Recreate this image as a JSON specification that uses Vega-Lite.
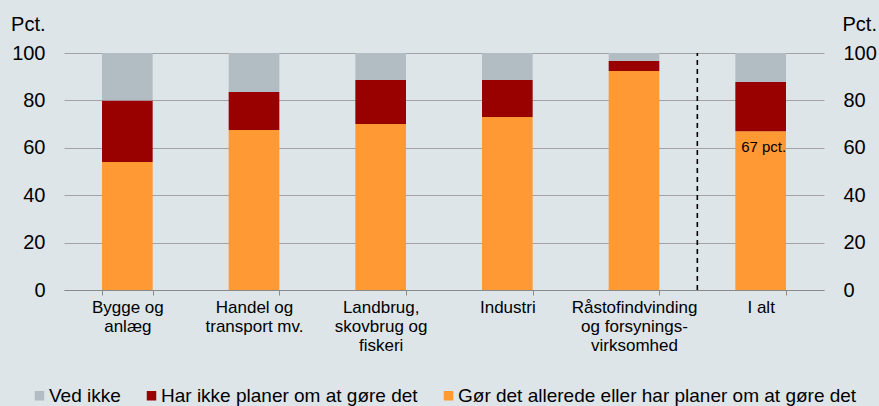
{
  "$schema": "https://vega.github.io/schema/vega-lite/v6.json",
  "autosize": {"type": "none"},
  "width": 760,
  "height": 237,
  "padding": {"left": 64, "top": 53, "right": 55, "bottom": 116},
  "background": "#dee5e9",
  "config": {
    "font": "Liberation Sans",
    "view": {"stroke": null},
    "axis": {"labelColor": "#000000", "titleColor": "#000000", "labelFont": "Liberation Sans", "titleFont": "Liberation Sans"},
    "legend": {"labelColor": "#000000", "labelFont": "Liberation Sans"}
  },
  "datasets": {
    "bars": [
      {"sektor": "Bygge og anlæg", "svar": "Gør det allerede eller har planer om at gøre det", "ord": 1, "value": 54},
      {"sektor": "Bygge og anlæg", "svar": "Har ikke planer om at gøre det", "ord": 2, "value": 26},
      {"sektor": "Bygge og anlæg", "svar": "Ved ikke", "ord": 3, "value": 20},
      {"sektor": "Handel og transport mv.", "svar": "Gør det allerede eller har planer om at gøre det", "ord": 1, "value": 67.5},
      {"sektor": "Handel og transport mv.", "svar": "Har ikke planer om at gøre det", "ord": 2, "value": 16},
      {"sektor": "Handel og transport mv.", "svar": "Ved ikke", "ord": 3, "value": 16.5},
      {"sektor": "Landbrug, skovbrug og fiskeri", "svar": "Gør det allerede eller har planer om at gøre det", "ord": 1, "value": 70},
      {"sektor": "Landbrug, skovbrug og fiskeri", "svar": "Har ikke planer om at gøre det", "ord": 2, "value": 18.6},
      {"sektor": "Landbrug, skovbrug og fiskeri", "svar": "Ved ikke", "ord": 3, "value": 11.4},
      {"sektor": "Industri", "svar": "Gør det allerede eller har planer om at gøre det", "ord": 1, "value": 73},
      {"sektor": "Industri", "svar": "Har ikke planer om at gøre det", "ord": 2, "value": 15.6},
      {"sektor": "Industri", "svar": "Ved ikke", "ord": 3, "value": 11.4},
      {"sektor": "Råstofindvinding og forsyningsvirksomhed", "svar": "Gør det allerede eller har planer om at gøre det", "ord": 1, "value": 92.4},
      {"sektor": "Råstofindvinding og forsyningsvirksomhed", "svar": "Har ikke planer om at gøre det", "ord": 2, "value": 4.2},
      {"sektor": "Råstofindvinding og forsyningsvirksomhed", "svar": "Ved ikke", "ord": 3, "value": 3.4},
      {"sektor": "I alt", "svar": "Gør det allerede eller har planer om at gøre det", "ord": 1, "value": 67},
      {"sektor": "I alt", "svar": "Har ikke planer om at gøre det", "ord": 2, "value": 20.8},
      {"sektor": "I alt", "svar": "Ved ikke", "ord": 3, "value": 12.2}
    ],
    "divider": [{"sektor": "I alt", "lo": 0, "hi": 100}],
    "note": [{"sektor": "I alt", "value": 67, "text": "67 pct."}]
  },
  "resolve": {"scale": {"y": "independent"}},
  "layer": [
    {
      "data": {"name": "bars"},
      "mark": {"type": "bar"},
      "encoding": {
        "x": {
          "field": "sektor",
          "type": "nominal",
          "sort": ["Bygge og anlæg", "Handel og transport mv.", "Landbrug, skovbrug og fiskeri", "Industri", "Råstofindvinding og forsyningsvirksomhed", "I alt"],
          "scale": {"paddingInner": 0.6, "paddingOuter": 0.3},
          "axis": {
            "title": null,
            "labelAngle": 0,
            "tickBand": "extent",
            "ticks": true,
            "tickSize": 5,
            "tickColor": "#8a8a8a",
            "domainColor": "#8a8a8a",
            "labelFontSize": 17,
            "labelPadding": 4,
            "labelLineHeight": 19,
            "labelLimit": 300,
            "labelExpr": "datum.value == 'Bygge og anlæg' ? ['Bygge og', 'anlæg'] : datum.value == 'Handel og transport mv.' ? ['Handel og', 'transport mv.'] : datum.value == 'Landbrug, skovbrug og fiskeri' ? ['Landbrug,', 'skovbrug og', 'fiskeri'] : datum.value == 'Råstofindvinding og forsyningsvirksomhed' ? ['Råstofindvinding', 'og forsynings-', 'virksomhed'] : datum.label"
          }
        },
        "y": {
          "field": "value",
          "type": "quantitative",
          "stack": "zero",
          "scale": {"domain": [0, 100]},
          "axis": {
            "title": "Pct.",
            "titleAngle": 0,
            "titleAlign": "right",
            "titleBaseline": "alphabetic",
            "titleX": -19,
            "titleY": -23,
            "titleFontSize": 20,
            "titleFontWeight": "normal",
            "labelFontSize": 20,
            "labelPadding": 19,
            "ticks": false,
            "domain": false,
            "grid": true,
            "gridColor": "#a3a3a3",
            "values": [0, 20, 40, 60, 80, 100]
          }
        },
        "color": {
          "field": "svar",
          "type": "nominal",
          "scale": {
            "domain": ["Ved ikke", "Har ikke planer om at gøre det", "Gør det allerede eller har planer om at gøre det"],
            "range": ["#b2bdc3", "#990000", "#ff9933"]
          },
          "legend": {
            "title": null,
            "orient": "none",
            "direction": "horizontal",
            "legendX": -34,
            "legendY": 333,
            "padding": 0,
            "symbolType": "square",
            "symbolSize": 90,
            "symbolStrokeWidth": 0,
            "labelFontSize": 19,
            "labelOffset": 0,
            "columnPadding": 21,
            "labelLimit": 500
          }
        },
        "order": {"field": "ord", "type": "quantitative"}
      }
    },
    {
      "data": {"name": "divider"},
      "mark": {"type": "rule", "color": "#000000", "strokeDash": [5, 4], "strokeWidth": 1.6},
      "encoding": {
        "x": {
          "field": "sektor",
          "type": "nominal",
          "bandPosition": -0.75,
          "sort": ["Bygge og anlæg", "Handel og transport mv.", "Landbrug, skovbrug og fiskeri", "Industri", "Råstofindvinding og forsyningsvirksomhed", "I alt"]
        },
        "y": {
          "field": "lo",
          "type": "quantitative",
          "scale": {"domain": [0, 100]},
          "axis": {
            "orient": "right",
            "title": "Pct.",
            "titleAngle": 0,
            "titleAlign": "left",
            "titleBaseline": "alphabetic",
            "titleX": 18,
            "titleY": -23,
            "titleFontSize": 20,
            "titleFontWeight": "normal",
            "labelFontSize": 20,
            "labelPadding": 19,
            "ticks": false,
            "domain": false,
            "grid": false,
            "values": [0, 20, 40, 60, 80, 100]
          }
        },
        "y2": {"field": "hi"}
      }
    },
    {
      "data": {"name": "note"},
      "mark": {"type": "text", "fontSize": 15, "color": "#000000", "baseline": "alphabetic", "align": "center", "dy": 21, "dx": 3},
      "encoding": {
        "x": {
          "field": "sektor",
          "type": "nominal",
          "sort": ["Bygge og anlæg", "Handel og transport mv.", "Landbrug, skovbrug og fiskeri", "Industri", "Råstofindvinding og forsyningsvirksomhed", "I alt"]
        },
        "y": {"field": "value", "type": "quantitative", "scale": {"domain": [0, 100]}, "axis": null},
        "text": {"field": "text"}
      }
    }
  ]
}
